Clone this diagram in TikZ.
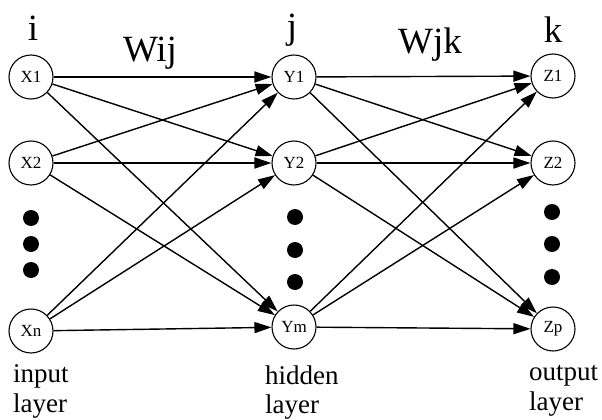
\documentclass[tikz,border=0pt]{standalone}
\usepackage{fontspec}
\setmainfont{Liberation Serif}
\usetikzlibrary{arrows.meta}
\begin{document}
\begin{tikzpicture}[x=1pt,y=-1pt,
  neuron/.style={circle,draw,line width=1.1pt,minimum size=44pt,inner sep=0pt,font=\fontsize{17}{17}\selectfont},
  conn/.style={line width=1.4pt,-{Triangle[length=17pt,width=11pt]}},
  dotc/.style={circle,fill=black,minimum size=16pt,inner sep=0pt},
  biglbl/.style={anchor=base,inner sep=0pt,font=\fontsize{37}{37}\selectfont},
  laylbl/.style={anchor=base west,inner sep=0pt,font=\fontsize{27}{27}\selectfont}]
\useasboundingbox (0,0) rectangle (602,420);
% nodes
\node[neuron] (x1) at (31,77) {X1};
\node[neuron] (x2) at (31,163) {X2};
\node[neuron] (xn) at (31,331) {Xn};
\node[neuron] (y1) at (294,77) {Y1};
\node[neuron] (y2) at (294,163) {Y2};
\node[neuron] (ym) at (294,327) {Ym};
\node[neuron] (z1) at (553,76) {Z1};
\node[neuron] (z2) at (553,163) {Z2};
\node[neuron] (zp) at (553,329) {Zp};
% dots
\node[dotc] (dx1) at (31,218) {};
\node[dotc] (dx2) at (31,244) {};
\node[dotc] (dx3) at (31,270) {};
\node[dotc] (dy1) at (295,217) {};
\node[dotc] (dy2) at (295,250) {};
\node[dotc] (dy3) at (295,282) {};
\node[dotc] (dz1) at (552,212) {};
\node[dotc] (dz2) at (552,244) {};
\node[dotc] (dz3) at (552,277) {};
% labels
\node[biglbl] (li) at (33,41) {i};
\node[biglbl] (lj) at (292,38) {j};
\node[biglbl] (lk) at (553,43) {k};
\node[biglbl] (wij) at (150,62) {Wij};
\node[biglbl] (wjk) at (430,53) {Wjk};
\node[laylbl] (in1) at (13,382) {input};
\node[laylbl] (in2) at (13,412) {layer};
\node[laylbl] (hi1) at (265,384) {hidden};
\node[laylbl] (hi2) at (265,413) {layer};
\node[laylbl] (ou1) at (529,380) {output};
\node[laylbl] (ou2) at (529,410) {layer};
% connections
\foreach \a in {x1,x2,xn}{\foreach \b in {y1,y2,ym}{\draw[conn] (\a) -- (\b);}}
\foreach \a in {y1,y2,ym}{\foreach \b in {z1,z2,zp}{\draw[conn] (\a) -- (\b);}}
\end{tikzpicture}
\end{document}
